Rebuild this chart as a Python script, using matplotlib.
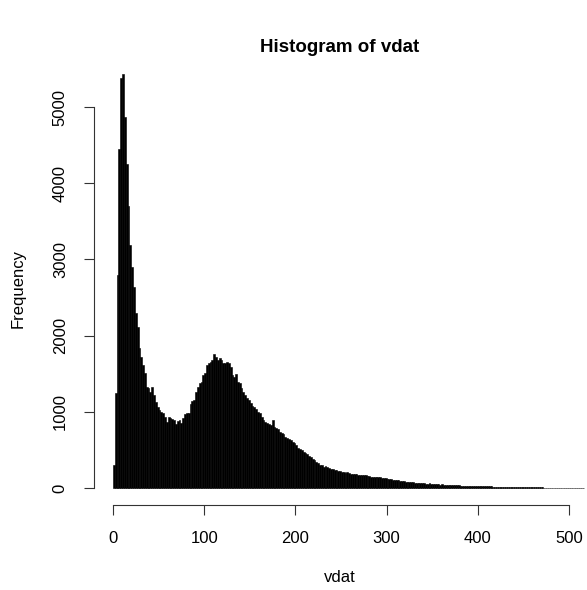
import numpy as np
import matplotlib
matplotlib.use("Agg")
import matplotlib.pyplot as plt

plt.rcParams['font.family'] = ['Liberation Sans', 'DejaVu Sans']

# histogram of vdat, bins of width 2 starting at 0
bin_width = 2
counts = [
    300, 1250, 2800, 4450, 5380, 5430, 4870, 4250, 3700, 3190,
    2900, 2640, 2300, 2110, 1840, 1720, 1610, 1510, 1330, 1310,
    1260, 1330, 1220, 1130, 1060, 1020, 1000, 980, 930, 870,
    930, 920, 900, 890, 840, 880, 890, 850, 920, 970,
    980, 980, 1100, 1140, 1150, 1260, 1330, 1380, 1390, 1480,
    1510, 1610, 1640, 1650, 1680, 1760, 1720, 1680, 1700, 1680,
    1640, 1640, 1660, 1640, 1590, 1480, 1460, 1500, 1390, 1380,
    1310, 1260, 1220, 1180, 1150, 1110, 1080, 1060, 1040, 1000,
    980, 930, 890, 870, 850, 840, 830, 890, 800, 790,
    770, 740, 720, 710, 670, 650, 640, 630, 610, 590,
    560, 530, 510, 500, 470, 460, 450, 420, 410, 380,
    370, 340, 330, 300, 300, 280, 290, 275, 260, 250,
    250, 240, 235, 225, 220, 215, 210, 200, 215, 200,
    190, 185, 185, 180, 175, 170, 170, 165, 170, 160,
    155, 150, 150, 145, 140, 150, 140, 135, 130, 125,
    120, 118, 115, 110, 108, 105, 100, 95, 92, 88,
    85, 80, 78, 75, 72, 70, 68, 66, 64, 60,
    62, 58, 56, 60, 54, 52, 50, 52, 48, 45,
    46, 44, 42, 40, 40, 38, 36, 37, 34, 33,
    32, 31, 30, 31, 29, 28, 28, 27, 26, 27,
    25, 24, 24, 22, 22, 21, 20, 20, 19, 18,
    18, 17, 17, 16, 15, 15, 14, 14, 13, 13,
    12, 12, 11, 11, 10, 10, 10, 9, 9, 9,
    8, 8, 8, 7, 7, 7, 6, 6, 6, 6,
    5, 5, 5, 5, 4, 4, 4, 4, 3, 3,
    3, 3, 2, 2, 2, 2, 1, 1,
]
x_ticks = [0, 100, 200, 300, 400, 500]
y_ticks = [0, 1000, 2000, 3000, 4000, 5000]

edges = np.arange(len(counts) + 1) * bin_width

fig = plt.figure(figsize=(5.87, 5.90), dpi=100)
ax = fig.add_axes([0.1605, 0.1449, 0.8383, 0.7576])

ax.bar(edges[:-1], counts, width=bin_width, align='edge',
       color='black', edgecolor='black', linewidth=0.4)

ax.set_xlim(-20.6, 519)
ax.set_ylim(-217, 5650)

for s in ['top', 'right']:
    ax.spines[s].set_visible(False)
ax.spines['bottom'].set_bounds(0, 500)
ax.spines['left'].set_bounds(0, 5000)
for s in ['bottom', 'left']:
    ax.spines[s].set_linewidth(0.8)
    ax.spines[s].set_color('#333333')

ax.set_xticks(x_ticks)
ax.set_yticks(y_ticks)
ax.set_yticklabels([str(v) for v in y_ticks], rotation=90, va='center')
ax.tick_params(axis='x', length=7, width=0.8, pad=12, labelsize=12, colors='#333333', labelcolor='black')
ax.tick_params(axis='y', length=7, width=0.8, pad=12, labelsize=12, colors='#333333', labelcolor='black')

fig.text(340 / 587, 1 - 47 / 590, 'Histogram of vdat', ha='center', va='center',
         fontsize=13.5, fontweight='bold')
fig.text(340 / 587, 1 - 578 / 590, 'vdat', ha='center', va='center', fontsize=12)
fig.text(18 / 587, 1 - 288 / 590, 'Frequency', ha='center', va='center',
         rotation=90, fontsize=12)

fig.savefig('out.png', dpi=100)
